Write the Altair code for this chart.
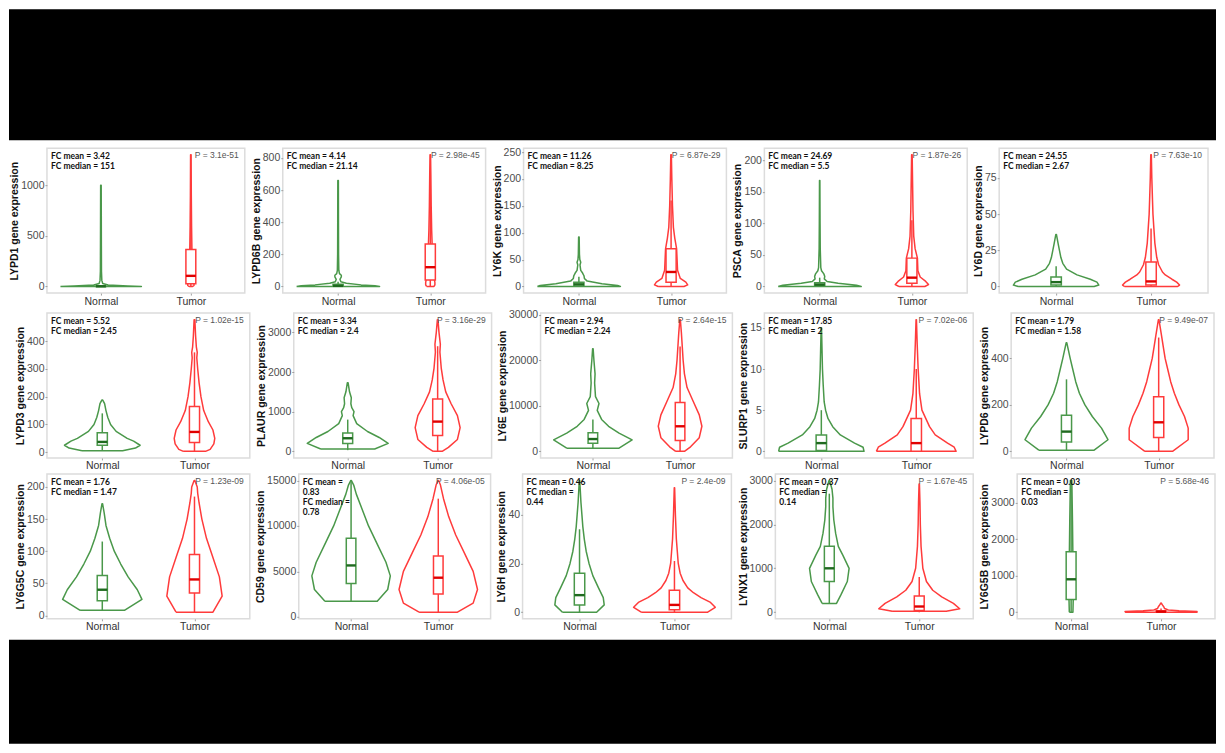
import altair as alt
import pandas as pd

GENES = ["LYPD1", "LYPD6B", "LY6K", "PSCA", "LY6D",
         "LYPD3", "PLAUR", "LY6E", "SLURP1", "LYPD6",
         "LY6G5C", "CD59", "LY6H", "LYNX1", "LY6G5B"]

FC_LINES = [
    ["FC mean = 3.42", "FC median = 151"],
    ["FC mean = 4.14", "FC median = 21.14"],
    ["FC mean = 11.26", "FC median = 8.25"],
    ["FC mean = 24.69", "FC median = 5.5"],
    ["FC mean = 24.55", "FC median = 2.67"],
    ["FC mean = 5.52", "FC median = 2.45"],
    ["FC mean = 3.34", "FC median = 2.4"],
    ["FC mean = 2.94", "FC median = 2.24"],
    ["FC mean = 17.85", "FC median = 2"],
    ["FC mean = 1.79", "FC median = 1.58"],
    ["FC mean = 1.76", "FC median = 1.47"],
    ["FC mean =", "0.83", "FC median =", "0.78"],
    ["FC mean = 0.46", "FC median =", "0.44"],
    ["FC mean = 0.37", "FC median =", "0.14"],
    ["FC mean = 0.03", "FC median =", "0.03"],
]

P_VALUES = ["3.1e-51", "2.98e-45", "6.87e-29", "1.87e-26", "7.63e-10",
            "1.02e-15", "3.16e-29", "2.64e-15", "7.02e-06", "9.49e-07",
            "1.23e-09", "4.06e-05", "2.4e-09", "1.67e-45", "5.68e-46"]

Y_TICKS = [
    [0, 500, 1000], [0, 200, 400, 600, 800], [0, 50, 100, 150, 200, 250],
    [0, 50, 100, 150, 200], [0, 25, 50, 75],
    [0, 100, 200, 300, 400], [0, 1000, 2000, 3000], [0, 10000, 20000, 30000],
    [0, 5, 10, 15], [0, 200, 400],
    [0, 50, 100, 150, 200], [0, 5000, 10000, 15000], [0, 20, 40],
    [0, 1000, 2000, 3000], [0, 1000, 2000, 3000],
]

# violin outlines: expression value and half-width (x units), Normal group
VN_Y = [
    [0, 5, 15, 30, 60, 150, 400, 700, 1000],
    [0, 4, 10, 20, 30, 45, 60, 70, 80, 100, 200, 400, 660],
    [0, 2, 5, 10, 15, 20, 25, 30, 40, 45, 50, 60, 92],
    [0, 2, 5, 8, 12, 16, 20, 25, 30, 40, 60, 100, 168],
    [0, 1, 3, 5, 8, 12, 16, 20, 25, 30, 36],
    [5, 15, 25, 40, 50, 75, 100, 125, 150, 175, 188],
    [60, 200, 350, 500, 700, 900, 1000, 1100, 1200, 1350, 1500, 1730],
    [700, 2500, 4000, 5500, 7000, 9000, 10500, 12000, 15000, 17000, 20000, 22500],
    [0, 0.5, 1, 2, 3, 4, 5, 6, 8, 10, 12, 15],
    [5, 50, 100, 150, 200, 250, 300, 350, 400, 468],
    [8, 25, 40, 60, 80, 100, 120, 140, 160, 174],
    [1700, 3000, 4500, 6000, 8000, 10000, 12000, 13500, 14500, 15000],
    [0, 3, 6, 10, 15, 20, 25, 30, 35, 40, 45, 50, 54],
    [200, 400, 700, 1000, 1300, 1500, 1800, 2100, 2400, 2600, 2800, 3000],
    [0, 500, 1000, 1500, 2500, 3600],
]
VN_W = [
    [0.45, 0.3, 0.08, 0.02, 0.01, 0.006, 0.005, 0.004, 0.003],
    [0.45, 0.4, 0.25, 0.09, 0.03, 0.02, 0.035, 0.035, 0.015, 0.008, 0.005, 0.004, 0.003],
    [0.45, 0.42, 0.25, 0.09, 0.06, 0.055, 0.04, 0.02, 0.012, 0.02, 0.01, 0.006, 0.003],
    [0.45, 0.4, 0.2, 0.08, 0.05, 0.055, 0.045, 0.02, 0.012, 0.01, 0.006, 0.004, 0.002],
    [0.4, 0.45, 0.43, 0.36, 0.22, 0.11, 0.07, 0.05, 0.035, 0.02, 0.003],
    [0.22, 0.36, 0.41, 0.34, 0.27, 0.15, 0.09, 0.06, 0.04, 0.025, 0.005],
    [0.3, 0.45, 0.35, 0.22, 0.1, 0.06, 0.07, 0.045, 0.035, 0.04, 0.02, 0.004],
    [0.3, 0.45, 0.3, 0.18, 0.1, 0.05, 0.07, 0.03, 0.02, 0.025, 0.012, 0.003],
    [0.45, 0.44, 0.35, 0.2, 0.12, 0.07, 0.045, 0.03, 0.02, 0.012, 0.008, 0.002],
    [0.3, 0.45, 0.38, 0.28, 0.2, 0.14, 0.1, 0.07, 0.04, 0.003],
    [0.24, 0.43, 0.38, 0.28, 0.2, 0.13, 0.08, 0.04, 0.02, 0.003],
    [0.3, 0.42, 0.45, 0.4, 0.3, 0.2, 0.12, 0.06, 0.03, 0.004],
    [0.18, 0.26, 0.25, 0.2, 0.14, 0.1, 0.07, 0.05, 0.035, 0.025, 0.015, 0.008, 0.002],
    [0.08, 0.13, 0.2, 0.22, 0.15, 0.1, 0.07, 0.05, 0.04, 0.04, 0.03, 0.003],
    [0.02, 0.025, 0.025, 0.02, 0.015, 0.008],
]

# violin outlines, Tumor group
VT_Y = [
    [0, 10, 30, 60, 100, 200, 365, 600, 900, 1300],
    [0, 10, 25, 40, 100, 200, 265, 350, 500, 700, 820],
    [0, 3, 8, 15, 30, 50, 70, 90, 110, 150, 200, 245],
    [0, 3, 8, 15, 25, 45, 60, 80, 120, 160, 209],
    [0, 1, 3, 5, 8, 10, 15, 20, 25, 30, 40, 50, 60, 75, 91],
    [3, 10, 30, 50, 80, 110, 150, 200, 250, 300, 340, 360, 380, 420, 478],
    [0, 100, 300, 600, 900, 1200, 1500, 1800, 2100, 2500, 2700, 3000, 3320],
    [0, 1000, 3000, 5500, 8000, 11000, 14000, 17000, 20000, 23000, 26000, 28900],
    [0, 0.5, 1, 2, 3, 4, 5, 7, 10, 13, 16],
    [0, 50, 100, 150, 200, 250, 300, 350, 400, 450, 500, 567],
    [5, 30, 60, 90, 120, 150, 175, 190, 200, 210],
    [500, 1500, 3000, 5000, 7000, 9000, 11000, 13000, 14500, 15000],
    [0, 2, 4, 6, 8, 10, 13, 16, 20, 25, 30, 40, 51],
    [20, 80, 200, 350, 500, 700, 1000, 1500, 2000, 2500, 2920],
    [0, 20, 40, 60, 100, 150, 200, 250],
]
VT_W = [
    [0.02, 0.035, 0.035, 0.03, 0.025, 0.018, 0.012, 0.008, 0.005, 0.003],
    [0.04, 0.05, 0.05, 0.045, 0.035, 0.025, 0.02, 0.015, 0.01, 0.006, 0.003],
    [0.14, 0.18, 0.16, 0.1, 0.07, 0.065, 0.06, 0.04, 0.025, 0.015, 0.008, 0.003],
    [0.14, 0.18, 0.15, 0.09, 0.065, 0.06, 0.035, 0.02, 0.012, 0.008, 0.003],
    [0.28, 0.3, 0.27, 0.22, 0.15, 0.12, 0.08, 0.06, 0.05, 0.04, 0.03, 0.02, 0.015, 0.008, 0.003],
    [0.12, 0.17, 0.21, 0.22, 0.2, 0.15, 0.1, 0.07, 0.05, 0.035, 0.025, 0.03, 0.02, 0.012, 0.004],
    [0.05, 0.12, 0.22, 0.25, 0.22, 0.15, 0.09, 0.06, 0.04, 0.025, 0.03, 0.015, 0.003],
    [0.05, 0.12, 0.22, 0.25, 0.22, 0.15, 0.08, 0.05, 0.035, 0.025, 0.015, 0.003],
    [0.42, 0.4, 0.33, 0.2, 0.14, 0.1, 0.06, 0.035, 0.02, 0.01, 0.002],
    [0.15, 0.32, 0.32, 0.28, 0.22, 0.17, 0.13, 0.1, 0.07, 0.05, 0.03, 0.003],
    [0.2, 0.3, 0.27, 0.2, 0.13, 0.08, 0.05, 0.035, 0.03, 0.004],
    [0.22, 0.4, 0.45, 0.4, 0.3, 0.2, 0.12, 0.06, 0.025, 0.004],
    [0.35, 0.43, 0.38, 0.28, 0.2, 0.14, 0.09, 0.06, 0.04, 0.03, 0.02, 0.01, 0.002],
    [0.3, 0.45, 0.38, 0.25, 0.15, 0.08, 0.04, 0.02, 0.012, 0.008, 0.002],
    [0.4, 0.4, 0.2, 0.08, 0.04, 0.03, 0.015, 0.003],
]

# box plot statistics: [whisker low, Q1, median, Q3, whisker high]
BOX_N = [
    [0, 0.5, 2, 6, 15], [0, 1, 4, 14, 30], [0, 1, 4, 8, 18], [0, 1, 3, 6, 14],
    [0, 1, 3, 6.5, 14],
    [5, 25, 37, 70, 140], [30, 200, 330, 460, 800], [700, 1800, 2700, 4100, 7000],
    [0, 0.1, 1, 2, 5], [5, 40, 85, 155, 310],
    [8, 23, 40, 62, 115], [1700, 3650, 5650, 8650, 15000], [0, 3, 7, 16, 34],
    [200, 700, 1000, 1500, 2700], [0, 350, 900, 1650, 3600],
]
BOX_T = [
    [5, 28, 105, 365, 860], [0, 40, 120, 265, 600], [0, 8, 27, 70, 160],
    [0, 5, 14, 45, 105], [0, 1, 3.5, 17, 40],
    [3, 35, 73, 165, 360], [0, 400, 750, 1320, 2650], [0, 2400, 5500, 10700, 23000],
    [0, 0, 1, 4, 10], [0, 60, 125, 235, 490],
    [5, 35, 56, 95, 185], [500, 2500, 4300, 6700, 13000], [0, 1, 3, 9, 21],
    [0, 40, 130, 370, 800], [0, 5, 15, 40, 100],
]

GREEN = "#4a984a"
RED = "#ff3b3b"
GREEN_DARK = "#1f6a1f"
RED_DARK = "#e00000"
BOX_HW = 0.055
LABEL_FS = 10.5
CELL = 236
PLOT_H = 145
FONT = "Liberation Sans"
LW = 1.5


def axis_width(i):
    nchar = max(len(str(t)) for t in Y_TICKS[i])
    return 3 + nchar * 0.556 * LABEL_FS


def make_panel(i):
    rows = []
    for grp, c, ys, ws in [("Normal", 1, VN_Y[i], VN_W[i]), ("Tumor", 2, VT_Y[i], VT_W[i])]:
        pts = [(y, c - w) for y, w in zip(ys, ws)]
        pts += [(y, c + w) for y, w in reversed(list(zip(ys, ws)))]
        pts.append(pts[0])
        for k, (y, x) in enumerate(pts):
            rows.append({"group": grp, "y": y, "x": x, "k": k})
    vdf = pd.DataFrame(rows)

    brows = []
    for grp, c, b, dark in [("Normal", 1, BOX_N[i], GREEN_DARK), ("Tumor", 2, BOX_T[i], RED_DARK)]:
        brows.append({"group": grp, "c": c, "bl": c - BOX_HW, "br": c + BOX_HW,
                      "lo": b[0], "q1": b[1], "med": b[2], "q3": b[3], "hi": b[4],
                      "mcol": dark})
    bdf = pd.DataFrame(brows)

    allv = VN_Y[i] + VT_Y[i] + BOX_N[i] + BOX_T[i]
    ymin, ymax = min(allv), max(allv)
    pad = 0.05 * (ymax - ymin)
    yscale = alt.Scale(domain=[ymin - pad, ymax + pad], nice=False, zero=False)
    xscale = alt.Scale(domain=[0.4, 2.6], nice=False, zero=False)
    cscale = alt.Scale(domain=["Normal", "Tumor"], range=[GREEN, RED])

    ext = axis_width(i)
    plot_w = int(round(CELL - ext - 1 - 11))

    yaxis = alt.Axis(values=[float(v) for v in Y_TICKS[i]], tickCount=12, format="d",
                     title=f"{GENES[i]} gene expression",
                     grid=False, domain=False, tickSize=2, tickColor="#a0a0a0",
                     labelPadding=1, labelFont=FONT, labelFontSize=LABEL_FS,
                     labelColor="#4d4d4d", labelOverlap=False, labelBound=False,
                     labelFlush=False, labelSeparation=0,
                     titleFont=FONT, titleFontSize=LABEL_FS,
                     titleFontWeight="bold", titleColor="#111111", titlePadding=1,
                     minExtent=ext, maxExtent=ext)
    xaxis = alt.Axis(values=[1, 2], tickCount=4,
                     labelExpr="datum.value == 1 ? 'Normal' : 'Tumor'",
                     title=None, grid=False, domain=False, tickSize=2,
                     tickColor="#a0a0a0", labelPadding=1, labelFont=FONT,
                     labelFontSize=LABEL_FS, labelColor="#333333", labelOverlap=False)

    violin = alt.Chart(vdf).mark_line(strokeWidth=LW, strokeJoin="round").encode(
        y=alt.Y("y:Q", scale=yscale, axis=yaxis),
        x=alt.X("x:Q", scale=xscale, axis=xaxis),
        stroke=alt.Stroke("group:N", scale=cscale, legend=None),
        detail="group:N",
        order="k:Q",
    )
    whisker = alt.Chart(bdf).mark_rule(strokeWidth=LW).encode(
        x=alt.X("c:Q", scale=xscale, axis=xaxis),
        y=alt.Y("lo:Q", scale=yscale, axis=yaxis), y2="hi:Q",
        stroke=alt.Stroke("group:N", scale=cscale, legend=None),
    )
    box = alt.Chart(bdf).mark_rect(fill="white", strokeWidth=LW).encode(
        x=alt.X("bl:Q", scale=xscale, axis=xaxis), x2="br:Q",
        y=alt.Y("q1:Q", scale=yscale, axis=yaxis), y2="q3:Q",
        stroke=alt.Stroke("group:N", scale=cscale, legend=None),
    )
    median = alt.Chart(bdf).mark_rule(strokeWidth=2.4).encode(
        x=alt.X("bl:Q", scale=xscale, axis=xaxis), x2="br:Q",
        y=alt.Y("med:Q", scale=yscale, axis=yaxis),
        stroke=alt.Stroke("mcol:N", scale=None),
    )
    layers = [violin, whisker, box, median]
    for k, line in enumerate(FC_LINES[i]):
        layers.append(
            alt.Chart(pd.DataFrame({"t": [line]})).mark_text(
                align="left", baseline="alphabetic",
                font="Liberation Sans Narrow, Lato, sans-serif",
                fontWeight="bold", fontSize=8.5, color="#111111").encode(
                text="t:N", x=alt.value(4), y=alt.value(11 + 10 * k))
        )
    layers.append(
        alt.Chart(pd.DataFrame({"t": ["P = " + P_VALUES[i]]})).mark_text(
            align="right", baseline="alphabetic", font=FONT, fontSize=8.5,
            color="#555555").encode(text="t:N", x=alt.value(plot_w - 6), y=alt.value(10))
    )
    return alt.layer(*layers).properties(
        width=plot_w, height=PLOT_H,
        view=alt.ViewBackground(stroke="#dcdcdc", strokeWidth=1.5),
    )


rows = [alt.hconcat(*[make_panel(r * 5 + c) for c in range(5)], spacing=4) for r in range(3)]
grid = alt.vconcat(*rows, spacing=0)

band_df = pd.DataFrame({"v": [0]})
LEFT = round(axis_width(0) + 1 + 11)
TOTAL_W = 1208


def band(h):
    return alt.Chart(band_df).mark_rect(color="black").encode(
        x=alt.value(-LEFT), x2=alt.value(TOTAL_W - LEFT), y=alt.value(0), y2=alt.value(h)
    ).properties(width=TOTAL_W - LEFT - 2, height=h)


chart = alt.vconcat(band(131), grid, band(104), spacing=5).properties(
    padding=0, background="white"
).configure_view(stroke="transparent").configure_axis(labelOverlap=False)

chart.save("out.html", embed_options={"renderer": "svg", "actions": False})
